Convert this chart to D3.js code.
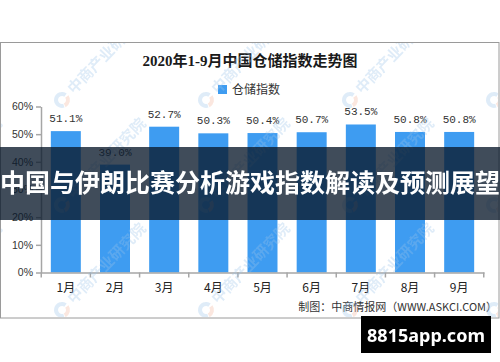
<!DOCTYPE html>
<html>
<head>
<meta charset="utf-8">
<script src="https://cdn.jsdelivr.net/npm/d3@7"></script>
<style>
  html, body { margin: 0; padding: 0; background: #fff; }
  svg { display: block; }
</style>
</head>
<body>
<svg id="chart" width="500" height="362"></svg>
<script>
// data
const months = ["1月", "2月", "3月", "4月", "5月", "6月", "7月", "8月", "9月"];
const storageIndex = [51.1, 39.0, 52.7, 50.3, 50.4, 50.7, 53.5, 50.8, 50.8];
const yTicks = [0, 10, 20, 30, 40, 50, 60];

const chartTitle = "2020年1-9月中国仓储指数走势图";
const legendLabel = "仓储指数";
const sourceLabel = "制图：中商情报网（WWW.ASKCI.COM）";
const bannerText = "中国与伊朗比赛分析游戏指数解读及预测展望";
const badgeText = "8815app.com";
const watermarkText = "中商产业研究院";

const svg = d3.select("#chart");
const barColor = "#3e9cf1";
const axisColor = "#a6a6a6";
const cjk = "'Noto Sans CJK SC', 'Noto Sans', sans-serif";

// outer frame
svg.append("rect")
    .attr("x", 0.5).attr("y", 42.5)
    .attr("width", 498.5).attr("height", 275.5)
    .attr("fill", "#fff")
    .attr("stroke", "#9a9a9a");

const xScale = d3.scaleBand()
    .domain(months)
    .range([41, 484])
    .paddingInner(0.39)
    .paddingOuter(0.2);

const yScale = d3.scaleLinear()
    .domain([0, 60])
    .range([272.5, 106.5]);

// title
svg.append("text")
    .attr("x", 250).attr("y", 66)
    .attr("text-anchor", "middle")
    .attr("font-family", "'Liberation Serif', 'Noto Sans CJK SC', serif")
    .attr("font-weight", "bold")
    .attr("font-size", 15)
    .attr("fill", "#1a1a1a")
    .text(chartTitle);

// legend
svg.append("rect")
    .attr("x", 218).attr("y", 85)
    .attr("width", 9).attr("height", 9)
    .attr("fill", barColor);
svg.append("text")
    .attr("x", 232).attr("y", 94)
    .attr("font-family", cjk)
    .attr("font-size", 12)
    .attr("fill", "#333")
    .text(legendLabel);

// bars
const group = svg.append("g").attr("class", "barbox");
group.selectAll("rect")
    .data(storageIndex)
    .enter().append("rect")
    .attr("x", (d, i) => xScale(months[i]))
    .attr("width", xScale.bandwidth())
    .attr("y", d => yScale(d))
    .attr("height", d => yScale(0) - yScale(d))
    .attr("fill", barColor);

// value labels
group.selectAll(".val")
    .data(storageIndex)
    .enter().append("text")
    .attr("class", "val")
    .attr("x", (d, i) => xScale(months[i]) + xScale.bandwidth() / 2)
    .attr("y", d => yScale(d) - 9)
    .attr("text-anchor", "middle")
    .attr("font-family", "'Liberation Mono', monospace")
    .attr("font-size", 11)
    .attr("fill", "#333")
    .text(d => d.toFixed(1) + "%");

// y axis
const yAxis = svg.append("g")
    .attr("transform", "translate(41,0)")
    .call(d3.axisLeft(yScale).tickValues(yTicks).tickSize(5).tickSizeOuter(0).tickFormat(d => d + "%"));
yAxis.select(".domain").attr("stroke", axisColor).attr("stroke-width", 1.5);
yAxis.selectAll(".tick line").attr("stroke", axisColor).attr("stroke-width", 1.5);
yAxis.selectAll(".tick text")
    .attr("x", -8)
    .attr("fill", "#333")
    .attr("font-family", "'Liberation Sans', sans-serif")
    .attr("font-size", 10.5);

// x axis
const xAxis = svg.append("g")
    .attr("transform", `translate(0,${yScale(0)})`)
    .call(d3.axisBottom(xScale).tickSize(0).tickSizeOuter(0));
xAxis.select(".domain").attr("stroke", axisColor).attr("stroke-width", 1.5);
xAxis.selectAll(".tick text")
    .attr("dy", 0)
    .attr("y", 19)
    .attr("fill", "#222")
    .attr("font-family", cjk)
    .attr("font-size", 12);

// boundary ticks between the months
const half = xScale.step() * xScale.paddingInner() / 2;
const edges = months.map(m => xScale(m) - half).concat([xScale(months[months.length - 1]) + xScale.bandwidth() + half]);
xAxis.selectAll(".edge")
    .data(edges)
    .enter().append("line")
    .attr("class", "edge")
    .attr("x1", d => d).attr("x2", d => d)
    .attr("y1", 0).attr("y2", 5)
    .attr("stroke", axisColor)
    .attr("stroke-width", 1.5);

// source note
svg.append("text")
    .attr("x", 497).attr("y", 311)
    .attr("text-anchor", "end")
    .attr("font-family", cjk)
    .attr("font-size", 11)
    .attr("fill", "#333")
    .text(sourceLabel);

// watermarks, faint, clipped to the frame
const clip = svg.append("clipPath").attr("id", "frameclip");
clip.append("rect").attr("x", 1).attr("y", 43).attr("width", 497).attr("height", 274);
const marks = svg.append("g").attr("clip-path", "url(#frameclip)").attr("opacity", 0.32);
const wmCols = [-82, 62, 206, 350, 494];
const wmRows = [100, 205, 310];
wmRows.forEach(wy => {
    wmCols.forEach(wx => {
        const g = marks.append("g").attr("transform", `translate(${wx},${wy})`);
        g.append("path")
            .attr("d", d3.arc()({ innerRadius: 4, outerRadius: 8, startAngle: Math.PI * 0.9, endAngle: Math.PI * 2.2 }))
            .attr("fill", "#9cc4ea");
        g.append("path")
            .attr("d", d3.arc()({ innerRadius: 4, outerRadius: 8, startAngle: Math.PI * 0.3, endAngle: Math.PI * 0.85 }))
            .attr("fill", "#f3b39a");
        g.append("text")
            .attr("transform", "rotate(-46) translate(12,5)")
            .attr("font-family", cjk)
            .attr("font-weight", "bold")
            .attr("font-size", 15)
            .attr("fill", "#9cc4ea")
            .text(watermarkText);
    });
});

// banner overlay
svg.append("rect")
    .attr("x", 0).attr("y", 147)
    .attr("width", 500).attr("height", 73)
    .attr("fill", "#0a1a2c")
    .attr("opacity", 0.78);
svg.append("text")
    .attr("x", 250).attr("y", 192)
    .attr("text-anchor", "middle")
    .attr("font-family", cjk)
    .attr("font-weight", "bold")
    .attr("font-size", 25)
    .attr("fill", "#fff")
    .text(bannerText);

// badge
svg.append("rect")
    .attr("x", 361).attr("y", 316)
    .attr("width", 130).attr("height", 37)
    .attr("fill", "#000");
svg.append("text")
    .attr("x", 426).attr("y", 342)
    .attr("text-anchor", "middle")
    .attr("font-family", "'Noto Sans', sans-serif")
    .attr("font-weight", "bold")
    .attr("font-size", 18)
    .attr("fill", "#fff")
    .text(badgeText);
</script>
</body>
</html>
